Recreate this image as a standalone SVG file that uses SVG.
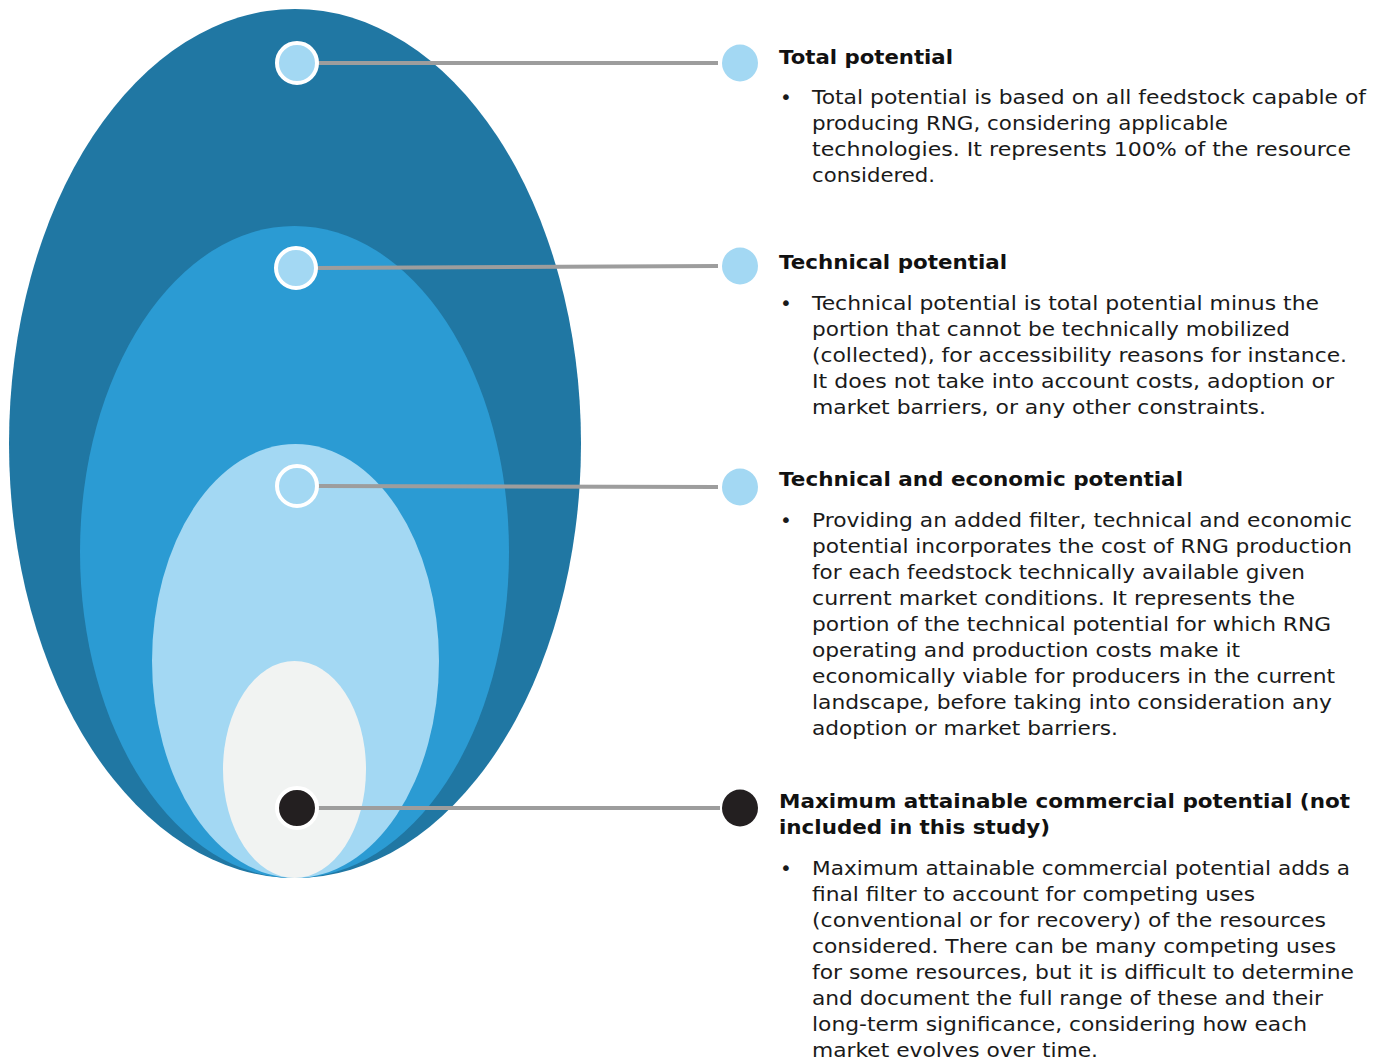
<svg xmlns="http://www.w3.org/2000/svg" width="1373" height="1061" viewBox="0 0 1373 1061">
  <style>
    .title { font-family: "DejaVu Sans", Verdana, sans-serif; font-size: 20px; font-weight: bold; fill: #111; }
    .body { font-family: "DejaVu Sans", Verdana, sans-serif; font-size: 20px; fill: #1a1a1a; }
    .lead { stroke: #9d9d9d; stroke-width: 4; fill: none; }
    .inner-dot { stroke: #ffffff; stroke-width: 4; }
    .light { fill: #a3d8f3; }
    .dark { fill: #231f20; }
  </style>
  <rect width="1373" height="1061" fill="#ffffff"/>

  <!-- nested potential ellipses -->
  <g id="ellipses">
    <ellipse id="total-ellipse" cx="295" cy="443.5" rx="286" ry="434.5" fill="#2077a3"/>
    <ellipse id="technical-ellipse" cx="294.5" cy="552" rx="214.5" ry="326" fill="#2b9bd3"/>
    <ellipse id="economic-ellipse" cx="295.5" cy="661" rx="143.5" ry="217" fill="#a3d8f3"/>
    <ellipse id="commercial-ellipse" cx="294.5" cy="769.5" rx="71.5" ry="108.5" fill="#f1f3f2"/>
  </g>

  <!-- leader lines -->
  <g id="connectors">
    <line class="lead" x1="318" y1="63" x2="718" y2="63"/>
    <line class="lead" x1="317" y1="268" x2="718" y2="266"/>
    <line class="lead" x1="318" y1="486" x2="718" y2="487"/>
    <line class="lead" x1="318" y1="808" x2="720" y2="808"/>
  </g>

  <!-- Total potential -->
  <g id="total-potential">
    <circle class="light inner-dot" cx="297" cy="63" r="20"/>
    <ellipse class="light" cx="740" cy="63" rx="18" ry="18.5"/>
    <text class="title" x="779" y="64" textLength="174" lengthAdjust="spacingAndGlyphs">Total potential</text>
    <text class="body" x="780" y="104">•</text>
    <text class="body" x="812" y="104" textLength="554" lengthAdjust="spacingAndGlyphs">Total potential is based on all feedstock capable of</text>
    <text class="body" x="812" y="130" textLength="416" lengthAdjust="spacingAndGlyphs">producing RNG, considering applicable</text>
    <text class="body" x="812" y="156" textLength="539" lengthAdjust="spacingAndGlyphs">technologies. It represents 100% of the resource</text>
    <text class="body" x="812" y="182" textLength="123" lengthAdjust="spacingAndGlyphs">considered.</text>
  </g>

  <!-- Technical potential -->
  <g id="technical-potential">
    <circle class="light inner-dot" cx="296" cy="268" r="20"/>
    <ellipse class="light" cx="740" cy="266" rx="18" ry="18.5"/>
    <text class="title" x="779" y="269" textLength="228" lengthAdjust="spacingAndGlyphs">Technical potential</text>
    <text class="body" x="780" y="310">•</text>
    <text class="body" x="812" y="310" textLength="507" lengthAdjust="spacingAndGlyphs">Technical potential is total potential minus the</text>
    <text class="body" x="812" y="336" textLength="478" lengthAdjust="spacingAndGlyphs">portion that cannot be technically mobilized</text>
    <text class="body" x="812" y="362" textLength="535" lengthAdjust="spacingAndGlyphs">(collected), for accessibility reasons for instance.</text>
    <text class="body" x="812" y="388" textLength="522" lengthAdjust="spacingAndGlyphs">It does not take into account costs, adoption or</text>
    <text class="body" x="812" y="414" textLength="454" lengthAdjust="spacingAndGlyphs">market barriers, or any other constraints.</text>
  </g>

  <!-- Technical and economic potential -->
  <g id="technical-economic-potential">
    <circle class="light inner-dot" cx="297" cy="486" r="20"/>
    <ellipse class="light" cx="740" cy="487" rx="18" ry="18.5"/>
    <text class="title" x="779" y="486" textLength="404" lengthAdjust="spacingAndGlyphs">Technical and economic potential</text>
    <text class="body" x="780" y="527">•</text>
    <text class="body" x="812" y="527" textLength="540" lengthAdjust="spacingAndGlyphs">Providing an added filter, technical and economic</text>
    <text class="body" x="812" y="553" textLength="540" lengthAdjust="spacingAndGlyphs">potential incorporates the cost of RNG production</text>
    <text class="body" x="812" y="579" textLength="493" lengthAdjust="spacingAndGlyphs">for each feedstock technically available given</text>
    <text class="body" x="812" y="605" textLength="483" lengthAdjust="spacingAndGlyphs">current market conditions. It represents the</text>
    <text class="body" x="812" y="631" textLength="519" lengthAdjust="spacingAndGlyphs">portion of the technical potential for which RNG</text>
    <text class="body" x="812" y="657" textLength="428" lengthAdjust="spacingAndGlyphs">operating and production costs make it</text>
    <text class="body" x="812" y="683" textLength="523" lengthAdjust="spacingAndGlyphs">economically viable for producers in the current</text>
    <text class="body" x="812" y="709" textLength="520" lengthAdjust="spacingAndGlyphs">landscape, before taking into consideration any</text>
    <text class="body" x="812" y="735" textLength="306" lengthAdjust="spacingAndGlyphs">adoption or market barriers.</text>
  </g>

  <!-- Maximum attainable commercial potential -->
  <g id="commercial-potential">
    <circle class="dark inner-dot" cx="297" cy="808" r="20"/>
    <ellipse class="dark" cx="740" cy="808" rx="18" ry="18.5"/>
    <text class="title" x="779" y="808" textLength="571" lengthAdjust="spacingAndGlyphs">Maximum attainable commercial potential (not</text>
    <text class="title" x="779" y="834" textLength="271" lengthAdjust="spacingAndGlyphs">included in this study)</text>
    <text class="body" x="780" y="875">•</text>
    <text class="body" x="812" y="875" textLength="538" lengthAdjust="spacingAndGlyphs">Maximum attainable commercial potential adds a</text>
    <text class="body" x="812" y="901" textLength="443" lengthAdjust="spacingAndGlyphs">final filter to account for competing uses</text>
    <text class="body" x="812" y="927" textLength="514" lengthAdjust="spacingAndGlyphs">(conventional or for recovery) of the resources</text>
    <text class="body" x="812" y="953" textLength="524" lengthAdjust="spacingAndGlyphs">considered. There can be many competing uses</text>
    <text class="body" x="812" y="979" textLength="542" lengthAdjust="spacingAndGlyphs">for some resources, but it is difficult to determine</text>
    <text class="body" x="812" y="1005" textLength="511" lengthAdjust="spacingAndGlyphs">and document the full range of these and their</text>
    <text class="body" x="812" y="1031" textLength="495" lengthAdjust="spacingAndGlyphs">long-term significance, considering how each</text>
    <text class="body" x="812" y="1057" textLength="286" lengthAdjust="spacingAndGlyphs">market evolves over time.</text>
  </g>
</svg>
